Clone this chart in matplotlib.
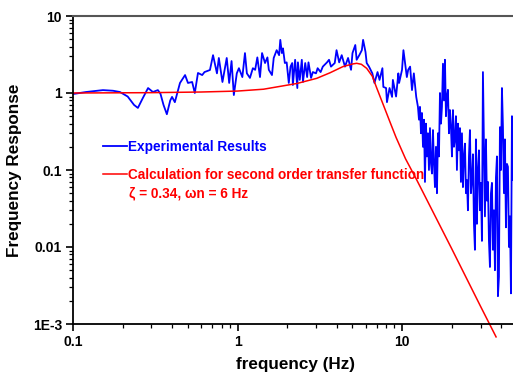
import matplotlib
matplotlib.use("Agg")
from matplotlib import pyplot as plt
import matplotlib.ticker as ticker

plt.rcParams['font.family'] = ['Liberation Sans', 'DejaVu Sans']
plt.rcParams['font.weight'] = 'bold'

exp_freq = [0.1, 0.12, 0.152, 0.175, 0.193, 0.215, 0.235, 0.248, 0.265, 0.286,
            0.306, 0.328, 0.34, 0.355, 0.372, 0.39, 0.40, 0.416, 0.447, 0.48,
            0.50, 0.53, 0.55, 0.575, 0.61, 0.63, 0.68, 0.71, 0.75, 0.77,
            0.81, 0.86, 0.89, 0.92, 0.95, 0.99, 1.02, 1.07, 1.11, 1.14,
            1.19, 1.24, 1.28, 1.32, 1.37, 1.41, 1.47, 1.52, 1.55, 1.62,
            1.66, 1.73, 1.79, 1.82, 1.86, 1.89, 1.94, 1.99, 2.05, 2.1,
            2.15, 2.17, 2.24, 2.31, 2.33, 2.39, 2.46, 2.5, 2.58, 2.65,
            2.7, 2.8, 2.87, 3.0, 3.07, 3.2, 3.3, 3.5, 3.6, 3.7,
            3.9, 4.0, 4.15, 4.3, 4.5, 4.7, 4.9, 5.0, 5.2, 5.3,
            5.5, 5.7, 5.8, 6.0, 6.1, 6.3, 6.6, 6.8, 7.1, 7.3,
            7.6, 7.7, 8.0, 8.1, 8.4, 8.7, 8.8, 9.2, 9.5, 9.6,
            10.0, 10.2, 10.5, 10.7, 10.9, 11.2, 11.5, 11.8, 12.2, 12.5,
            12.68, 12.86, 13.04, 13.22, 13.41, 13.6, 13.79, 13.98, 14.18, 14.38,
            14.58, 14.79, 15.0, 15.21, 15.42, 15.64, 15.86, 16.08, 16.31, 16.54,
            16.77, 17.01, 17.25, 17.49, 17.74, 17.99, 18.24, 18.5, 18.76, 19.02,
            19.29, 19.56, 19.84, 20.12, 20.4, 20.69, 20.98, 21.27, 21.57, 21.88,
            22.19, 22.5, 22.81, 23.14, 23.46, 23.79, 24.13, 24.47, 24.81, 25.16,
            25.52, 25.88, 26.24, 26.61, 26.99, 27.37, 27.75, 28.14, 28.54, 28.94,
            29.35, 29.76, 30.18, 30.61, 31.04, 31.48, 31.92, 32.37, 32.83, 33.29,
            33.76, 34.24, 34.72, 35.21, 35.71, 36.21, 36.72, 37.24, 37.76, 38.29,
            38.83, 39.38, 39.94, 40.5, 41.07, 41.65, 42.24, 42.83, 43.44, 44.05,
            44.67, 45.3, 45.94, 46.59, 47.25]
exp_resp = [0.97, 1.03, 1.09, 1.07, 1.03, 0.9, 0.7, 0.64, 0.85, 1.16,
            1.03, 1.09, 0.98, 0.7, 0.53, 0.8, 0.89, 0.76, 1.35, 1.71,
            1.35, 1.39, 1.0, 1.82, 1.71, 1.87, 1.99, 3.1, 1.8, 2.85,
            1.39, 2.85, 1.35, 2.6, 0.94, 1.8, 2.1, 1.61, 3.3, 1.8,
            1.57, 2.1, 2.0, 2.9, 1.61, 3.3, 2.45, 2.9, 2.0, 1.71,
            2.85, 3.6, 3.1, 4.9, 3.3, 3.8, 2.45, 2.5, 1.35, 2.2,
            2.45, 1.27, 2.7, 1.16, 2.5, 1.48, 2.7, 1.39, 2.45, 1.61,
            2.5, 1.57, 1.87, 1.8, 2.1, 1.87, 2.2, 2.5, 2.7, 2.2,
            2.45, 3.6, 2.5, 3.1, 2.2, 2.85, 2.0, 3.3, 4.2, 2.7,
            3.1, 3.6, 4.9, 3.4, 2.45, 2.2, 1.8, 1.35, 1.87, 1.48,
            2.1, 1.2, 1.16, 0.76, 1.16, 0.89, 1.48, 0.9, 1.8, 1.35,
            2.0, 3.6, 2.2, 1.61, 2.0, 2.2, 1.09, 1.8, 0.89, 0.66,
            0.45, 0.66, 0.3, 0.55, 0.2, 0.45, 0.07, 0.4, 0.15, 0.3,
            0.1, 0.35, 0.12, 0.09, 0.33, 0.12, 0.06, 0.2, 0.05, 0.3,
            0.15, 1.0, 0.4, 0.66, 2.4, 0.8, 2.7, 0.5, 0.9, 1.1,
            0.3, 0.6, 0.36, 0.15, 0.6, 0.2, 0.25, 0.5, 0.1, 0.4,
            0.18, 0.35, 0.07, 0.3, 0.06, 0.15, 0.22, 0.05, 0.074, 0.03,
            0.15, 0.33, 0.05, 0.074, 0.16, 0.02, 0.0092, 0.25, 0.02, 0.1,
            0.18, 0.03, 0.068, 0.012, 1.87, 0.2, 0.025, 0.25, 0.04, 0.07,
            0.012, 0.0055, 0.05, 0.068, 0.0092, 0.03, 0.005, 0.08, 0.15, 0.0023,
            0.0041, 0.36, 0.1, 1.16, 0.36, 0.05, 0.25, 0.018, 0.12, 0.11,
            0.01, 0.025, 0.0025, 0.5, 0.074]

# second order transfer function curve
calc_freq = [0.1, 0.3, 0.6, 1.0, 1.44, 2.3, 3.03, 3.65, 4.37, 5.0, 5.3,
             5.66, 6.1, 6.6, 7.0, 7.7, 8.45, 9.2, 10.5, 12.3, 20, 30, 37.3]
calc_resp = [1.0, 1.01, 1.03, 1.06, 1.12, 1.33, 1.55, 1.83, 2.2, 2.38, 2.43,
             2.36, 2.09, 1.65, 1.18, 0.70, 0.42, 0.265, 0.14, 0.074, 0.0096, 0.0017, 0.00068]

x_ticks = [0.1, 1, 10]
x_tick_labels = ['0.1', '1', '10']
y_ticks = [0.001, 0.01, 0.1, 1, 10]
y_tick_labels = ['1E-3', '0.01', '0.1', '1', '10']

fig = plt.figure(figsize=(5.13, 3.76), dpi=100)
ax = fig.add_axes([73/513, 52/376, 444/513, 308/376])

ax.plot(exp_freq, exp_resp, color='#0000ff', linewidth=1.3, label='Experimental Results')
ax.plot(calc_freq, calc_resp, color='#ff0000', linewidth=1.1, clip_on=False,
        label='Calculation for second order transfer function')

ax.set_xscale('log')
ax.set_yscale('log')
ax.set_xlim(0.1, 50)
ax.set_ylim(0.001, 10)

ax.xaxis.set_major_locator(ticker.FixedLocator(x_ticks))
ax.xaxis.set_major_formatter(ticker.FixedFormatter(x_tick_labels))
ax.yaxis.set_major_locator(ticker.FixedLocator(y_ticks))
ax.yaxis.set_major_formatter(ticker.FixedFormatter(y_tick_labels))
ax.xaxis.set_minor_formatter(ticker.NullFormatter())
ax.yaxis.set_minor_formatter(ticker.NullFormatter())
ax.tick_params(which='major', direction='out', length=5, width=1.2, labelsize=10, pad=3)
ax.tick_params(which='minor', direction='out', length=3, width=0.9)
ax.tick_params(right=False, top=False, which='both')

ax.spines['right'].set_visible(False)
ax.spines['top'].set_color('#555555')
ax.spines['top'].set_linewidth(1.5)
ax.spines['left'].set_linewidth(1.3)
ax.spines['bottom'].set_linewidth(1.3)

ax.set_xlabel('frequency (Hz)', fontsize=12.3, fontweight='bold', labelpad=6)
ax.set_ylabel('Frequency Response', fontsize=12.3, fontweight='bold', labelpad=8)

ax.legend(loc='upper left', bbox_to_anchor=(103/513, 1 - 140/376),
          bbox_transform=fig.transFigure, frameon=False,
          handlelength=1.76, handletextpad=0.1, labelspacing=1.0, borderpad=0,
          borderaxespad=0, labelcolor='linecolor', prop={'weight': 'bold', 'size': 9.8})
fig.text(129/513, 1 - 193/376, 'ζ = 0.34, ωn = 6 Hz', color='#ff0000',
         fontsize=9.8, fontweight='bold', va='center', ha='left')

plt.savefig('out.png', dpi=100)
